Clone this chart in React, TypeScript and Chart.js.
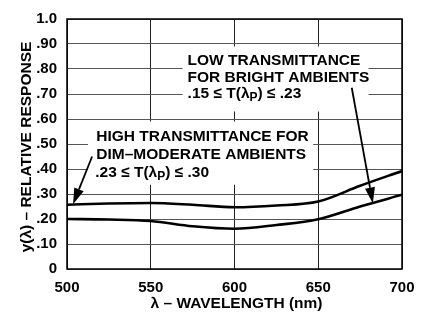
import React, { useEffect, useRef } from "react";
import { Chart, registerables } from "chart.js";

Chart.register(...registerables);

// ---- data ----
const wavelengths = [500, 525, 550, 575, 600, 625, 650, 675, 700];
const highTransmittance = [0.257, 0.262, 0.264, 0.257, 0.247, 0.254, 0.27, 0.333, 0.392];
const lowTransmittance = [0.2, 0.198, 0.192, 0.171, 0.161, 0.176, 0.199, 0.25, 0.297];
const xTickValues = [500, 550, 600, 650, 700];
const yTickValues = [0, 0.1, 0.2, 0.3, 0.4, 0.5, 0.6, 0.7, 0.8, 0.9, 1.0];
const yTickLabels = ["0", ".10", ".20", ".30", ".40", ".50", ".60", ".70", ".80", ".90", "1.0"];
const xTitle = "λ – WAVELENGTH (nm)";
const yTitle = "y(λ) – RELATIVE RESPONSE";
const highLines = ["HIGH TRANSMITTANCE FOR", "DIM–MODERATE AMBIENTS"];
const highRange = [".23 ≤ T(λ", "P", ") ≤ .30"];
const lowLines = ["LOW TRANSMITTANCE", "FOR BRIGHT AMBIENTS"];
const lowRange = [".15 ≤ T(λ", "P", ") ≤ .23"];

// annotation anchors in data units
const highBox = { x0: 512.5, x1: 647, y0: 0.59, y1: 0.337 };
const lowBox = { x0: 569, x1: 680, y0: 0.89, y1: 0.63 };
const highText = { x: 517.5, y: 0.512 };
const lowText = { x: 572.0, y: 0.816 };
const highArrow = { x0: 515, y0: 0.45, x1: 503.6, y1: 0.259 };
const lowArrow = { x0: 670, y0: 0.725, x1: 682.6, y1: 0.262 };

const FONT = '"Liberation Sans", Arial, Helvetica, sans-serif';

function drawRich(ctx: CanvasRenderingContext2D, parts: string[], x: number, y: number, size: number) {
  let cx = x;
  parts.forEach((p, i) => {
    const sub = i === 1;
    ctx.font = `bold ${sub ? Math.round(size * 0.75) : size}px ${FONT}`;
    ctx.fillText(p, cx, sub ? y + 3 : y);
    cx += ctx.measureText(p).width;
  });
}

function drawArrow(ctx: CanvasRenderingContext2D, x0: number, y0: number, x1: number, y1: number) {
  const ang = Math.atan2(y1 - y0, x1 - x0);
  const hl = 16;
  const hw = 5;
  const bx = x1 - hl * Math.cos(ang);
  const by = y1 - hl * Math.sin(ang);
  ctx.strokeStyle = "#000";
  ctx.lineWidth = 1.8;
  ctx.beginPath();
  ctx.moveTo(x0, y0);
  ctx.lineTo(bx, by);
  ctx.stroke();
  ctx.fillStyle = "#000";
  ctx.beginPath();
  ctx.moveTo(x1, y1);
  ctx.lineTo(bx + hw * Math.sin(ang), by - hw * Math.cos(ang));
  ctx.lineTo(bx - hw * Math.sin(ang), by + hw * Math.cos(ang));
  ctx.closePath();
  ctx.fill();
}

const annotations = {
  id: "annotations",
  beforeDatasetsDraw(chart: any) {
    const { ctx, scales } = chart;
    const xs = scales.x;
    const ys = scales.y;
    ctx.save();
    ctx.fillStyle = "#fff";
    [highBox, lowBox].forEach((b) => {
      const l = xs.getPixelForValue(b.x0);
      const r = xs.getPixelForValue(b.x1);
      const t = ys.getPixelForValue(b.y0);
      const bt = ys.getPixelForValue(b.y1);
      ctx.fillRect(l, t, r - l, bt - t);
    });
    ctx.restore();
  },
  afterDatasetsDraw(chart: any) {
    const { ctx, scales, chartArea } = chart;
    const xs = scales.x;
    const ys = scales.y;
    ctx.save();
    // frame
    ctx.strokeStyle = "#000";
    ctx.lineWidth = 1.5;
    ctx.strokeRect(chartArea.left, chartArea.top, chartArea.right - chartArea.left, chartArea.bottom - chartArea.top);

    ctx.fillStyle = "#000";
    ctx.textBaseline = "alphabetic";
    ctx.textAlign = "left";
    const size = 15.5;
    // high text
    const hx = xs.getPixelForValue(highText.x);
    const hy = ys.getPixelForValue(highText.y);
    ctx.font = `bold ${size}px ${FONT}`;
    highLines.forEach((s, i) => ctx.fillText(s, hx, hy + i * 17.8));
    drawRich(ctx, highRange, hx - 1, hy + 35.8, size);
    // low text
    const lx = xs.getPixelForValue(lowText.x);
    const ly = ys.getPixelForValue(lowText.y);
    ctx.font = `bold ${size}px ${FONT}`;
    lowLines.forEach((s, i) => ctx.fillText(s, lx, ly + i * 16.6));
    drawRich(ctx, lowRange, lx, ly + 33, size);

    [highArrow, lowArrow].forEach((a) =>
      drawArrow(
        ctx,
        xs.getPixelForValue(a.x0),
        ys.getPixelForValue(a.y0),
        xs.getPixelForValue(a.x1),
        ys.getPixelForValue(a.y1)
      )
    );

    // axis titles
    ctx.font = `bold 15.5px ${FONT}`;
    ctx.textAlign = "center";
    ctx.textBaseline = "middle";
    ctx.fillText(xTitle, (chartArea.left + chartArea.right) / 2 + 2, 304);
    ctx.translate(27, (chartArea.top + chartArea.bottom) / 2 + 3);
    ctx.rotate(-Math.PI / 2);
    ctx.fillText(yTitle, 0, 0);
    ctx.restore();
  },
};

export default function App() {
  const ref = useRef<HTMLCanvasElement | null>(null);
  useEffect(() => {
    if (!ref.current) return;
    const chart = new Chart(ref.current, {
      type: "line",
      data: {
        datasets: [
          {
            label: "High transmittance",
            data: wavelengths.map((w, i) => ({ x: w, y: highTransmittance[i] })),
            borderColor: "#000",
            borderWidth: 2.6,
            pointRadius: 0,
            cubicInterpolationMode: "monotone",
            fill: false,
          },
          {
            label: "Low transmittance",
            data: wavelengths.map((w, i) => ({ x: w, y: lowTransmittance[i] })),
            borderColor: "#000",
            borderWidth: 2.6,
            pointRadius: 0,
            cubicInterpolationMode: "monotone",
            fill: false,
          },
        ],
      },
      options: {
        responsive: false,
        animation: false,
        devicePixelRatio: 1,
        layout: { padding: { top: 14, right: 23, left: 0, bottom: 0 } },
        plugins: { legend: { display: false }, tooltip: { enabled: false } },
        scales: {
          x: {
            type: "linear",
            min: 500,
            max: 700,
            afterFit: (s: any) => {
              s.height = 45;
            },
            afterBuildTicks: (s: any) => {
              s.ticks = xTickValues.map((v) => ({ value: v }));
            },
            ticks: {
              color: "#000",
              font: { family: FONT, size: 15, weight: "bold" },
              padding: 10,
              maxRotation: 0,
              callback: (v: any) => String(v),
            },
            grid: { color: "#222", lineWidth: 1, drawTicks: false },
            border: { display: false },
          },
          y: {
            min: 0,
            max: 1,
            afterFit: (s: any) => {
              s.width = 67;
            },
            afterBuildTicks: (s: any) => {
              s.ticks = yTickValues.map((v) => ({ value: v }));
            },
            ticks: {
              color: "#000",
              font: { family: FONT, size: 15, weight: "bold" },
              padding: 10,
              callback: (_v: any, i: number) => yTickLabels[i],
            },
            grid: { color: "#555", lineWidth: 1, drawTicks: false },
            border: { display: false },
          },
        },
      },
      plugins: [annotations],
    } as any);
    return () => chart.destroy();
  }, []);
  return (
    <div style={{ position: "absolute", left: 0, top: 0, width: 425, height: 314, background: "#fff" }}>
      <canvas ref={ref} width={425} height={314} />
    </div>
  );
}
